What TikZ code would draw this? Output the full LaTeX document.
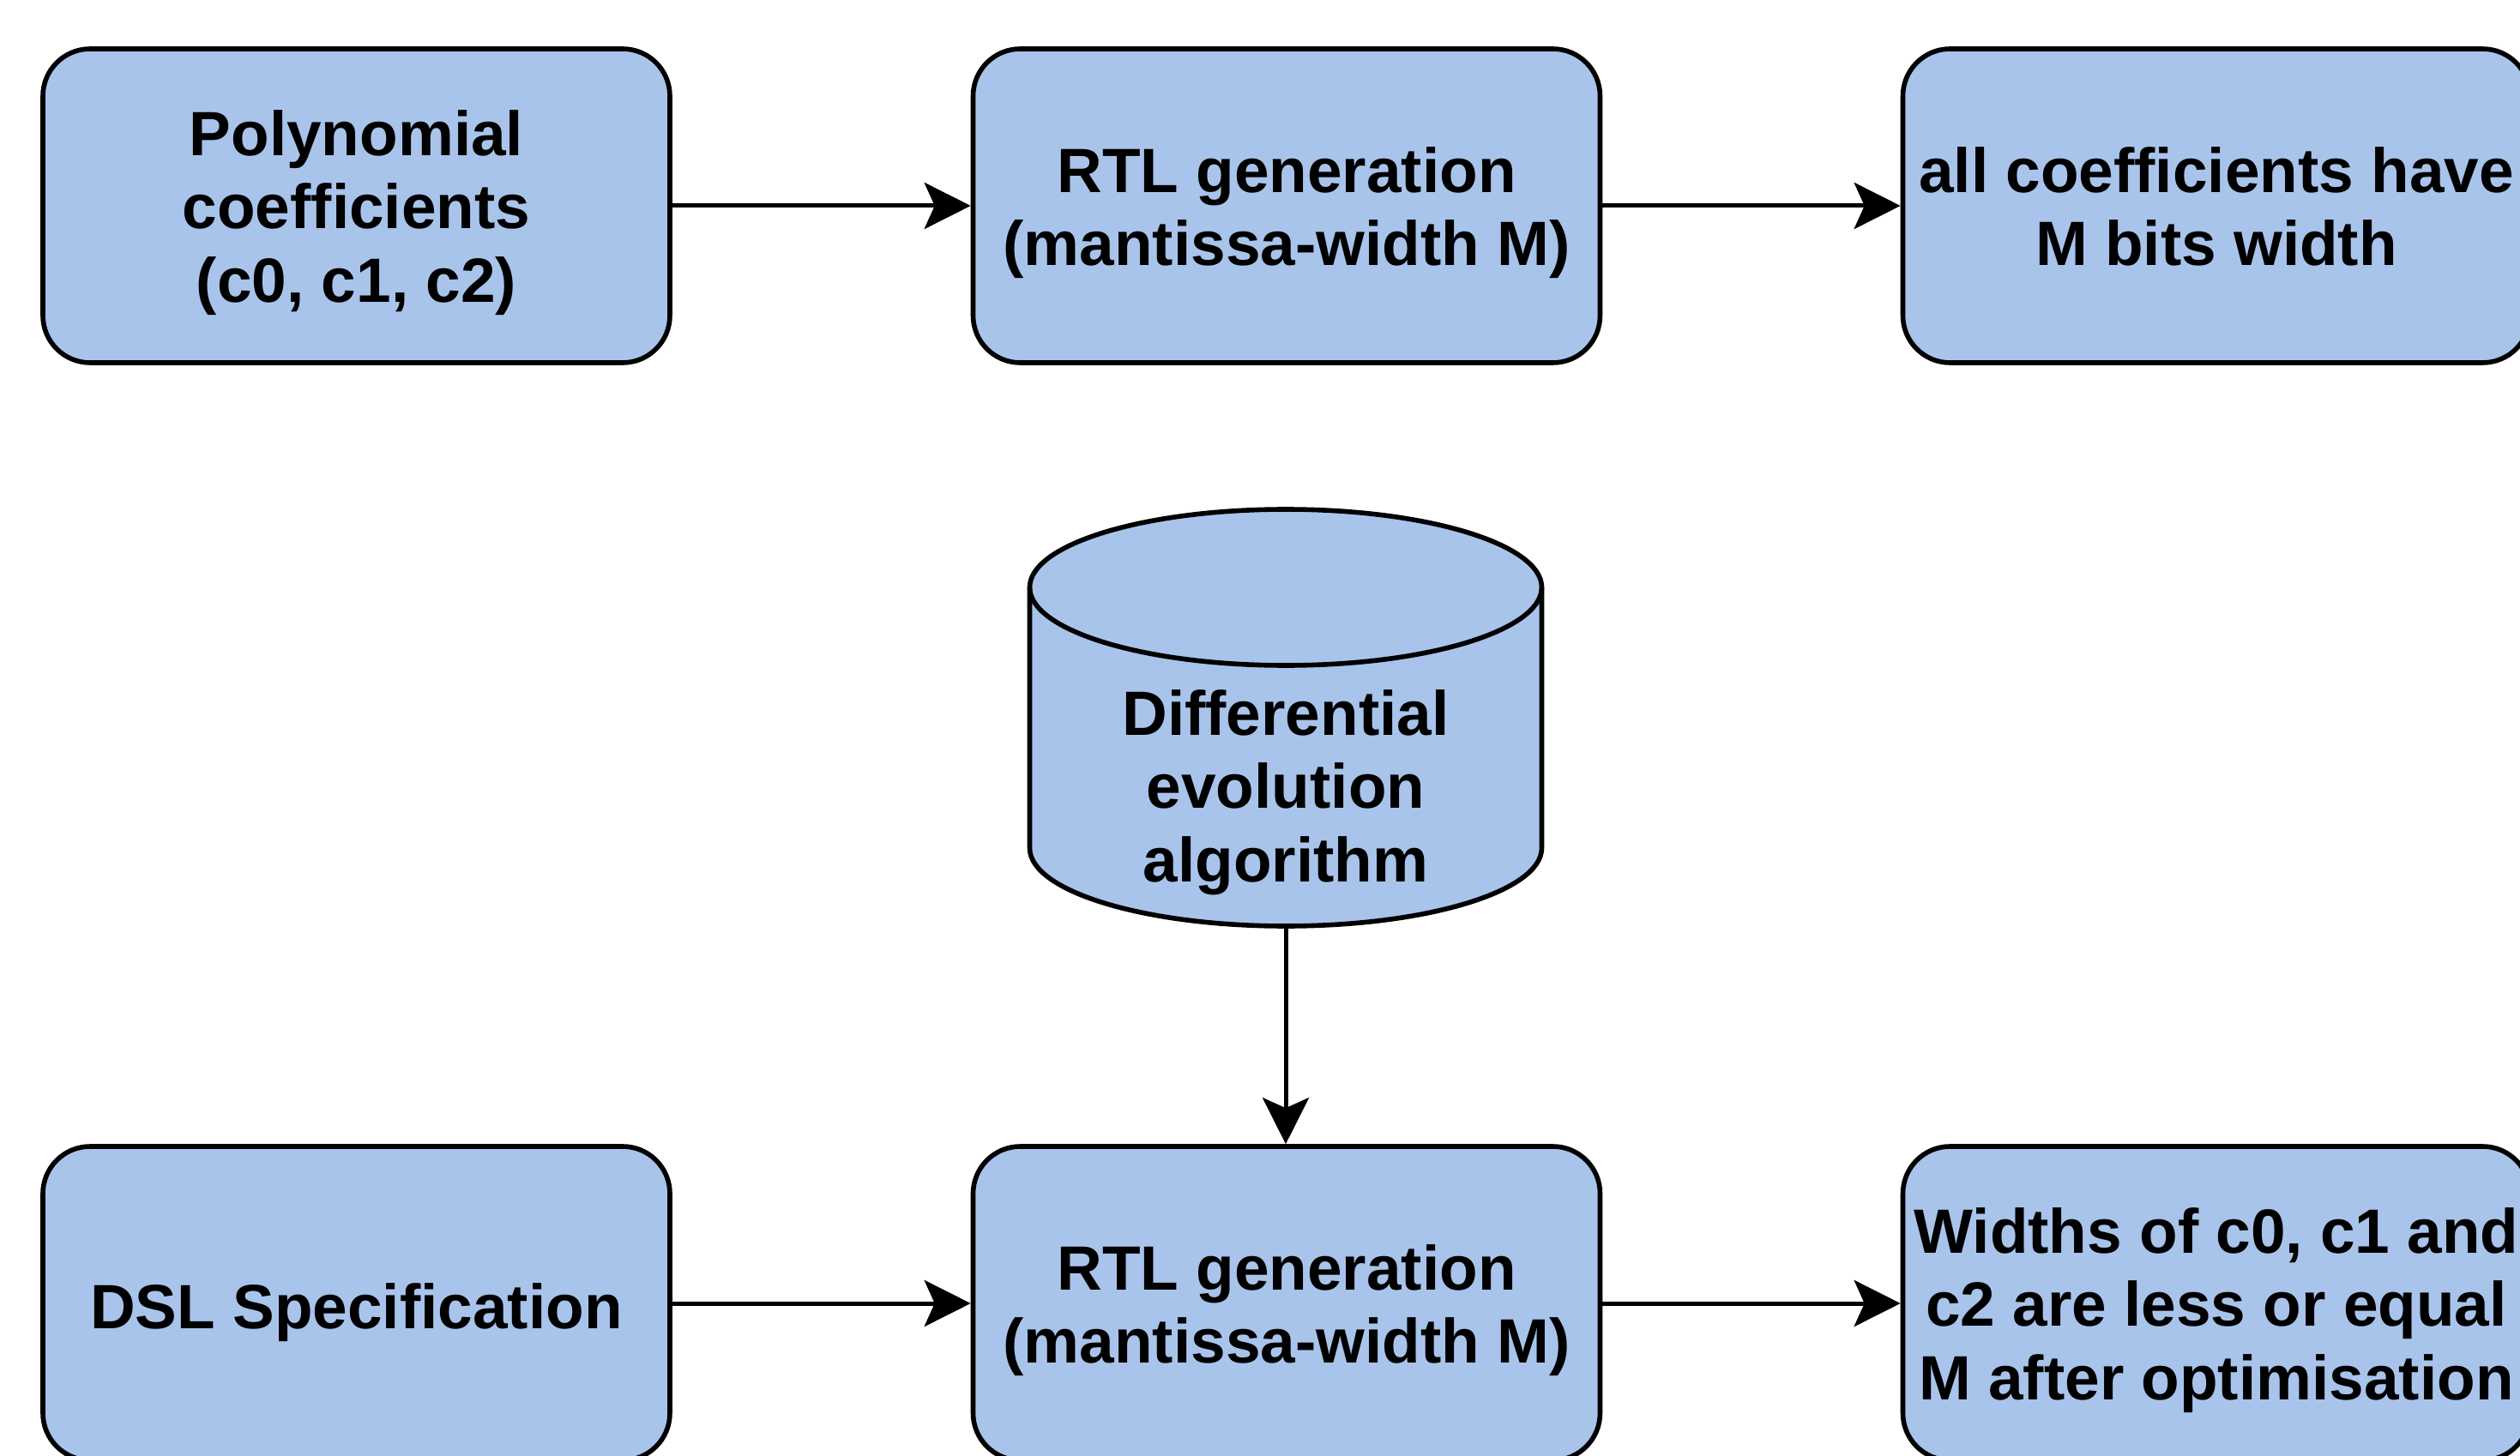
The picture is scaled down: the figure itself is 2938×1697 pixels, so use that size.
\documentclass[tikz,border=0pt]{standalone}
\usepackage{fontspec}
\setmainfont{Liberation Sans}
\usetikzlibrary{arrows.meta}
\definecolor{boxfill}{HTML}{A9C4EB}
\begin{document}
\begin{tikzpicture}[x=0.25pt,y=0.25pt,
  txt/.style={font=\fontsize{18.25pt}{21.4pt}\selectfont\bfseries, align=center},
  proc/.style={draw=black, fill=boxfill, line width=1.4pt, rounded corners=13.75pt,
    minimum width=182.75pt, minimum height=91.5pt, inner sep=0pt},
  lbl/.style={txt, inner sep=0pt, execute at begin node=\strut, execute at end node=\strut},
  conn/.style={line width=1.25pt, -{Stealth[length=13.5pt,width=13.5pt,inset=3pt]}}]
\useasboundingbox (0,0) rectangle (2938,1697);
\clip (0,0) rectangle (2938,1697);
\fill[white] (0,0) rectangle (2938,1697);

% top row
\node[proc] (poly) at (415.5,1457) {};
\node[lbl] (polyt) at ([yshift=-3.3pt]poly.center) {Polynomial\\coefficients\\(c0, c1, c2)};
\node[proc] (rtl1) at (1500,1457) {};
\node[lbl] (rtl1t) at ([yshift=-3.3pt]rtl1.center) {RTL generation\\(mantissa-width M)};
\node[proc] (allm) at (2584,1457) {};
\node[lbl] (allmt) at ([yshift=-3.3pt]allm.center) {all coefficients have\\M bits width};

% bottom row
\node[proc] (dsl) at (415.5,177) {};
\node[lbl] (dslt) at ([yshift=-3pt]dsl.center) {DSL Specification};
\node[proc] (rtl2) at (1500,177) {};
\node[lbl] (rtl2t) at ([yshift=-3.3pt]rtl2.center) {RTL generation\\(mantissa-width M)};
\node[proc] (wid) at (2584,177) {};
\node[lbl] (widt) at ([yshift=-3.3pt]wid.center) {Widths of c0, c1 and\\c2 are less or equal\\M after optimisation};

% cylinder
\path[draw=black, fill=boxfill, line width=1.4pt]
  (1200.5,1012) -- (1200.5,708)
  arc[start angle=180, end angle=360, x radius=74.625pt, y radius=22.75pt]
  -- (1797.5,1012)
  arc[start angle=0, end angle=180, x radius=74.625pt, y radius=22.75pt] -- cycle;
\draw[line width=1.4pt] (1200.5,1012)
  arc[start angle=180, end angle=360, x radius=74.625pt, y radius=22.75pt];
\node[minimum width=149.25pt, minimum height=121.75pt, inner sep=0pt] (de) at (1499,860.5) {};
\node[lbl] (detext) at (1499,768) {Differential\\evolution\\algorithm};

% connectors
\draw[conn] (poly.east) -- (rtl1.west);
\draw[conn] (rtl1.east) -- (allm.west);
\draw[conn] (dsl.east) -- (rtl2.west);
\draw[conn] (rtl2.east) -- (wid.west);
\draw[conn] (de.south) -- (de.south |- rtl2.north);
\end{tikzpicture}
\end{document}
